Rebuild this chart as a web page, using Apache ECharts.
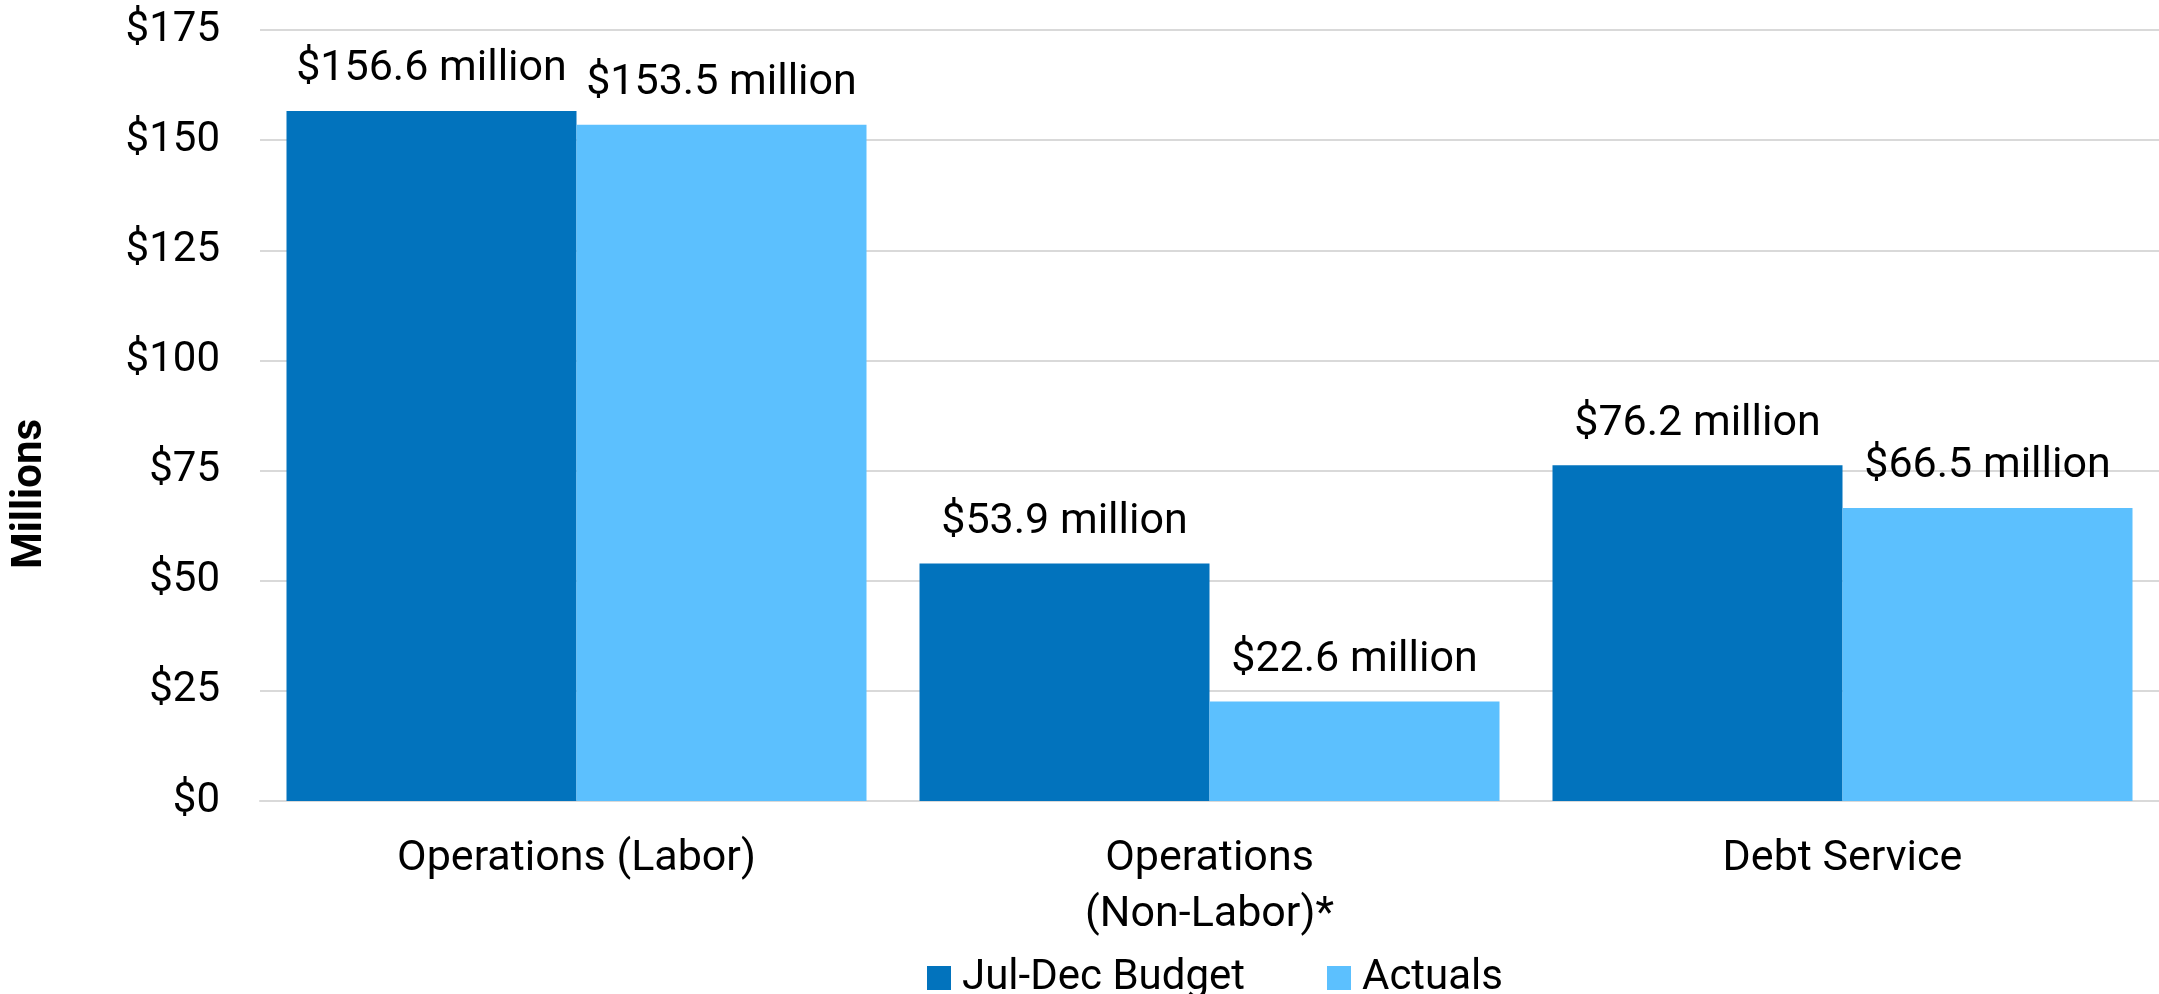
<!DOCTYPE html>
<html>
<head>
<meta charset="utf-8">
<script src="https://cdn.jsdelivr.net/npm/echarts@6/dist/echarts.min.js"></script>
<style>html,body{margin:0;padding:0;background:#fff;overflow:hidden;}#c{width:2159px;height:994px;}</style>
</head>
<body>
<div id="c"></div>
<script>
const categories = ['Operations (Labor)', 'Operations\n(Non-Labor)*', 'Debt Service'];
const budget = [156.6, 53.9, 76.2];
const actuals = [153.5, 22.6, 66.5];
const seriesNames = ['Jul-Dec Budget', 'Actuals'];
const yTicks = { min: 0, max: 175, interval: 25 };
const axisTitle = 'Millions';

const FONT = 'Roboto';
const chart = echarts.init(document.getElementById('c'), null, { renderer: 'canvas' });
const labelCfg = {
  show: true, position: 'top', distance: 20,
  fontFamily: FONT, fontSize: 43, color: '#000',
  formatter: p => '$' + p.value.toFixed(1) + ' million'
};
chart.setOption({
  animation: false,
  backgroundColor: '#fff',
  grid: { left: 260, top: 30, width: 1911, bottom: 193, containLabel: false },
  legend: {
    data: seriesNames, left: 922, top: 952,
    itemWidth: 24, itemHeight: 24, itemGap: 82,
    icon: 'rect',
    textStyle: { fontFamily: FONT, fontSize: 42, color: '#000', padding: [0, 0, 0, 6] }
  },
  graphic: [{
    type: 'text', left: 9, top: 419,
    rotation: Math.PI / 2,
    style: { text: axisTitle, font: 'bold 42px Roboto', fill: '#000' }
  }],
  xAxis: {
    type: 'category', data: categories,
    axisTick: { show: false },
    axisLine: { lineStyle: { color: '#D9D9D9', width: 2 } },
    axisLabel: { fontFamily: FONT, fontSize: 43, color: '#000', margin: 30, lineHeight: 56 }
  },
  yAxis: {
    type: 'value', min: yTicks.min, max: yTicks.max, interval: yTicks.interval,
    axisLine: { show: false }, axisTick: { show: false },
    splitLine: { lineStyle: { color: '#D9D9D9', width: 2 } },
    axisLabel: { fontFamily: FONT, fontSize: 42, color: '#000', margin: 40, formatter: v => '$' + v }
  },
  series: [
    { name: seriesNames[0], type: 'bar', data: budget, barWidth: 290, barGap: '0%',
      itemStyle: { color: '#0273BD' }, label: labelCfg },
    { name: seriesNames[1], type: 'bar', data: actuals, barWidth: 290, barGap: '0%',
      itemStyle: { color: '#5CC0FE' }, label: labelCfg }
  ]
});
</script>
</body>
</html>
